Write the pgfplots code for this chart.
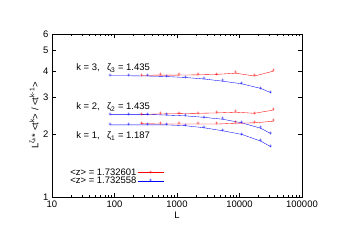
\documentclass[border=0pt]{standalone}
\usepackage{pgfplots}
\pgfplotsset{compat=1.18}
\usepackage{fontspec}
\setmainfont{Liberation Sans}
\definecolor{legred}{rgb}{0.996,0.002,0.002}
\definecolor{legblue}{rgb}{0.002,0.002,0.996}
\pgfplotstableread{
L y3 y2 y1
270 3.81 2.48 2.24
540 3.82 2.49 2.23
1080 3.82 2.50 2.23
2170 3.83 2.51 2.23
4350 3.85 2.52 2.23
8700 3.90 2.54 2.25
17400 3.78 2.51 2.26
34800 3.99 2.60 2.30
}\redtab
\pgfplotstableread{
L y3 y2 y1
85 3.79 2.48 2.21
170 3.79 2.48 2.21
340 3.78 2.48 2.21
680 3.76 2.46 2.21
1360 3.72 2.44 2.19
2720 3.66 2.40 2.14
5440 3.57 2.35 2.07
10880 3.47 2.26 1.99
21760 3.30 2.13 1.85
31500 3.15 2.01 1.74
}\bluetab
\begin{document}
\begin{tikzpicture}
\useasboundingbox (-52bp,-51bp) rectangle (299bp,197bp);
\begin{axis}[
  at={(0,0)}, anchor=south west,
  scale only axis, width=250bp, height=163bp,
  xmode=log, ymode=log,
  xmin=10, xmax=100000, ymin=1, ymax=6,
  xtick={10,100,1000,10000,100000},
  xticklabels={10,100,1000,10000,100000},
  minor xtick={20,30,40,50,60,70,80,90,200,300,400,500,600,700,800,900,2000,3000,4000,5000,6000,7000,8000,9000,20000,30000,40000,50000,60000,70000,80000,90000},
  ytick={1,2,3,4,5,6},
  yticklabels={1,2,3,4,5,6},
  minor ytick={},
  tick align=inside,
  major tick length=4bp, minor tick length=2bp,
  tick style={black, line width=0.5bp},
  axis line style={black, line width=0.8bp},
  every tick label/.append style={font=\fontsize{9.5}{11}\selectfont},
  xlabel={L}, ylabel={L\textsuperscript{ζ\textsubscript{k}}* <t\textsuperscript{k}> / <t\textsuperscript{k-1}>},
  label style={font=\fontsize{9.5}{11}\selectfont},
  xlabel style={yshift=2bp},
  ylabel style={yshift=-2bp},
  legend plot pos=right,
  legend cell align=right,
  legend style={draw=none, fill=none, at={(0.46,0.125)}, anchor=east,
    font=\fontsize{9.5}{9.5}\selectfont, row sep=-2bp,
    nodes={inner sep=1bp}},
  rl/.style={color=red, line width=0.35bp, no marks},
  bl/.style={color=blue, line width=0.35bp, no marks},
  rm/.style={only marks, mark=text, text mark={\fontsize{6}{6}\selectfont\textcolor{red}{+}}},
  bm/.style={only marks, mark=text, text mark={\fontsize{6}{6}\selectfont\textcolor{blue}{+}}},
]
\addplot[rl, legend image code/.code={\draw[color=legred, line width=0.35bp] (0bp,0bp) -- (26bp,0bp); \pgftext[at=\pgfpoint{13bp}{0bp}]{\fontsize{6}{6}\selectfont\textcolor{red}{+}}}] table[x=L,y=y3] {\redtab};
\addlegendentry{<z> = 1.732601}
\addplot[bl, legend image code/.code={\draw[color=legblue, line width=0.35bp] (0bp,0bp) -- (26bp,0bp); \pgftext[at=\pgfpoint{13bp}{0bp}]{\fontsize{6}{6}\selectfont\textcolor{blue}{+}}}] table[x=L,y=y3] {\bluetab};
\addlegendentry{<z> = 1.732558}
\addplot[rl, forget plot] table[x=L,y=y2] {\redtab};
\addplot[bl, forget plot] table[x=L,y=y2] {\bluetab};
\addplot[rl, forget plot] table[x=L,y=y1] {\redtab};
\addplot[bl, forget plot] table[x=L,y=y1] {\bluetab};
\addplot[rm, forget plot] table[x=L,y=y3] {\redtab};
\addplot[rm, forget plot] table[x=L,y=y2] {\redtab};
\addplot[rm, forget plot] table[x=L,y=y1] {\redtab};
\addplot[bm, forget plot] table[x=L,y=y3] {\bluetab};
\addplot[bm, forget plot] table[x=L,y=y2] {\bluetab};
\addplot[bm, forget plot] table[x=L,y=y1] {\bluetab};
\node[anchor=west, font=\fontsize{9.5}{11}\selectfont] at (axis cs:21.5,4.13) {k = 3,\enspace\ ζ\textsubscript{3} = 1.435};
\node[anchor=west, font=\fontsize{9.5}{11}\selectfont] at (axis cs:21.5,2.69) {k = 2,\enspace\ ζ\textsubscript{2} = 1.435};
\node[anchor=west, font=\fontsize{9.5}{11}\selectfont] at (axis cs:21.5,1.95) {k = 1,\enspace\ ζ\textsubscript{1} = 1.187};
\end{axis}
\end{tikzpicture}
\end{document}
